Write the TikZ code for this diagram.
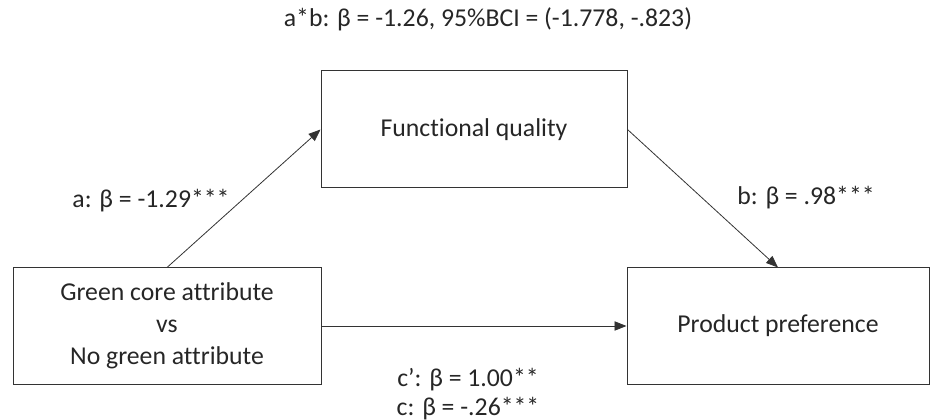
\documentclass[tikz,border=0pt]{standalone}
\usepackage{fontspec}
\setmainfont{Carlito}[Ligatures=NoCommon]
\usetikzlibrary{arrows.meta}

\begin{document}
\begin{tikzpicture}[x=0.75pt,y=0.75pt,yscale=-1,xscale=1,
    box/.style={draw=black!80, line width=0.75pt, inner sep=0pt, align=center,
        font=\fontsize{19.3}{24}\selectfont, text=black!85},
    path/.style={draw=black!80, line width=0.6pt, -{Triangle[length=9pt,width=7pt]}},
    lbl/.style={inner sep=0pt, align=center, font=\fontsize{19.3}{22}\selectfont, text=black!85}]
    % frame of the whole figure
    \useasboundingbox (0,0) rectangle (931,420);

    % Boxes
    \node [box, minimum width=231pt, minimum height=87pt] (grn) at (167,326)
        {Green core attribute\\vs\\No green attribute};
    \node [box, minimum width=229.5pt, minimum height=87.75pt] (func) at (474,129.5)
        {Functional quality};
    \node [box, minimum width=226.5pt, minimum height=87pt] (pref) at (778,326)
        {Product preference};

    % Paths
    \draw [path] (grn.north) -- (func.west);
    \draw [path] (func.east) -- (pref.north);
    \draw [path] (grn.east) -- (pref.west);

    % Text Node
    \node [lbl] (ind) at (488,19) {a*b: β = -1.26, 95\%BCI = (-1.778, -.823)};
    % Text Node
    \node [lbl] (pa) at (151,201) {a: β = -1.29***};
    % Text Node
    \node [lbl] (pb) at (806,198) {b: β = .98***};
    % Text Node
    \node [lbl] (pc) at (468,394) {c’: β = 1.00**\\c: β = -.26***};

\end{tikzpicture}
\end{document}
